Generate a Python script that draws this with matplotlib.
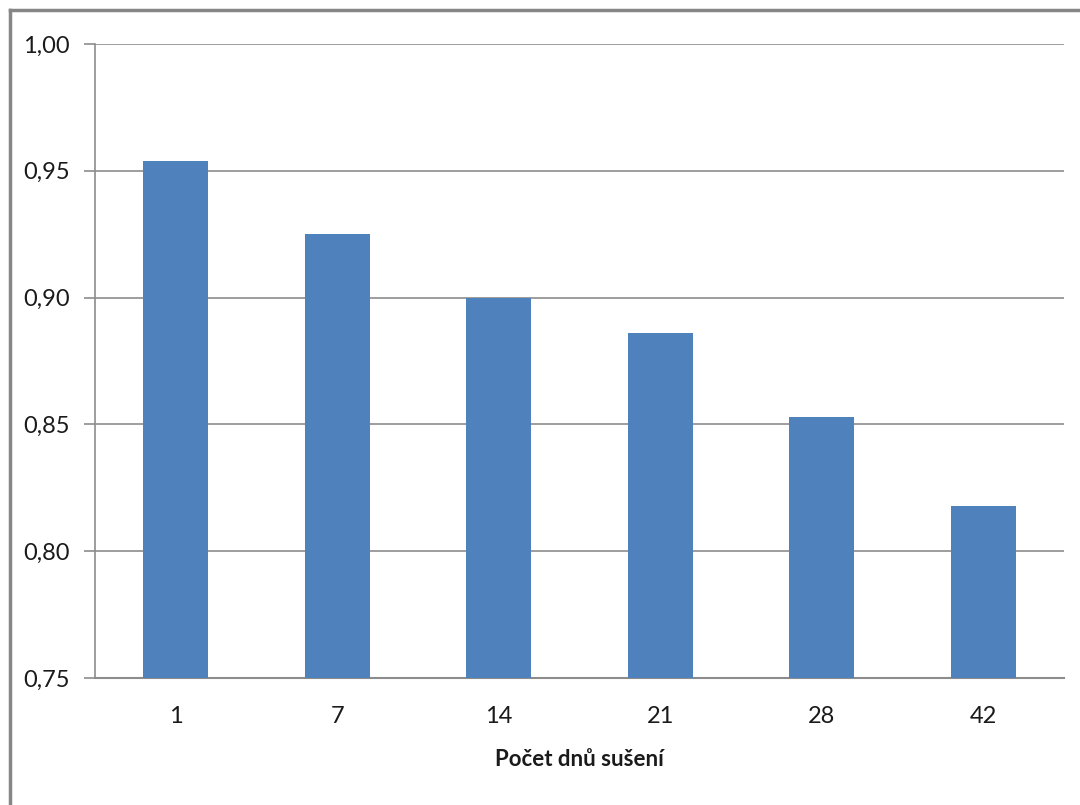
import matplotlib
matplotlib.use("Agg")
import matplotlib.pyplot as plt
from matplotlib.lines import Line2D

categories = ["1", "7", "14", "21", "28", "42"]
values = [0.954, 0.925, 0.900, 0.886, 0.853, 0.818]
yticks = [0.75, 0.80, 0.85, 0.90, 0.95, 1.00]
ytick_labels = ["0,75", "0,80", "0,85", "0,90", "0,95", "1,00"]
xlabel = "Počet dnů sušení"

plt.rcParams['font.family'] = ['Lato', 'DejaVu Sans']

W, H = 1080, 805
fig = plt.figure(figsize=(W / 100, H / 100), dpi=100)
ax = fig.add_axes([95 / W, 1 - 678 / H, (1064 - 95) / W, (678 - 44) / H])

x = list(range(len(categories)))
ax.bar(x, values, width=0.4, color="#4F81BD", zorder=3)
ax.set_xlim(-0.5, len(categories) - 0.5)
ax.set_ylim(0.75, 1.00)
ax.set_yticks(yticks)
ax.set_yticklabels(ytick_labels)
ax.set_xticks(x)
ax.set_xticklabels(categories)
ax.tick_params(axis='y', length=8, width=1.2, color="#8C8C8C", labelsize=17, pad=10, labelcolor="#1a1a1a")
ax.tick_params(axis='x', length=0, labelsize=17, pad=20, labelcolor="#1a1a1a")
ax.yaxis.grid(True, color="#8C8C8C", linewidth=1.2, zorder=0)
for s in ["top", "right"]:
    ax.spines[s].set_visible(False)
ax.spines["left"].set_color("#8C8C8C")
ax.spines["left"].set_linewidth(1.2)
ax.spines["bottom"].set_color("#8C8C8C")
ax.spines["bottom"].set_linewidth(1.5)
ax.set_xlabel(xlabel, fontsize=16, fontweight="bold", labelpad=16, color="#1a1a1a")

# outer chart border (left and top visible)
fig.add_artist(Line2D([9.5 / W, 9.5 / W], [0, 1 - 10 / H], transform=fig.transFigure, color="#868686", linewidth=2.5))
fig.add_artist(Line2D([9.5 / W, 1], [1 - 10.5 / H, 1 - 10.5 / H], transform=fig.transFigure, color="#868686", linewidth=2.5))

fig.savefig("out.png", dpi=100)
